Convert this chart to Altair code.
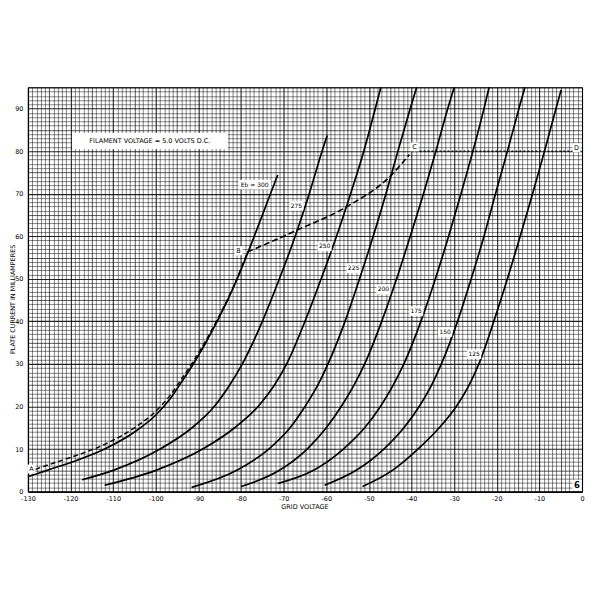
import altair as alt
import pandas as pd

# ---- characteristic curves: plate current levels (mA) and grid voltage (V) ----
ma_300 = [3.5, 5, 7, 10, 14, 18, 22, 26, 30, 40, 50, 60, 70, 74.4]
v_300 = [-130, -125.5, -119.5, -112, -105, -100, -96.5, -93.8, -91.2, -85.6, -80.9, -76.9, -73.1, -71.4]
ma_275 = [2.8, 5, 10, 15, 20, 25, 30, 40, 50, 60, 70, 80, 83.7]
v_275 = [-117.3, -110, -99, -91.5, -86.3, -82.7, -79.7, -75, -71, -67.3, -64, -61, -59.8]
ma_250 = [1.5, 5, 10, 15, 20, 25, 30, 40, 50, 60, 70, 80, 90, 95]
v_250 = [-112, -100, -89, -81.5, -76, -72.2, -69.3, -65, -61.2, -57.6, -54.3, -51.2, -48.5, -47.2]
ma_225 = [1.0, 5, 10, 15, 20, 25, 30, 40, 50, 60, 70, 80, 90, 95]
v_225 = [-91.6, -81, -73.5, -68.5, -65, -62, -59.6, -55.6, -52.2, -49, -46, -43.2, -40.3, -38.8]
ma_200 = [1.2, 5, 10, 15, 20, 25, 30, 40, 50, 60, 70, 80, 90, 95]
v_200 = [-80, -71, -64.5, -60, -56.5, -53.5, -51, -47, -43.5, -40.3, -37.2, -34.3, -31.5, -30]
ma_175 = [1.9, 5, 10, 15, 20, 25, 30, 40, 50, 60, 70, 80, 90, 95]
v_175 = [-71.4, -63, -56, -51, -47.3, -44.3, -41.8, -37.8, -34.4, -31.3, -28.4, -25.6, -23, -21.8]
ma_150 = [1.5, 5, 10, 15, 20, 25, 30, 40, 50, 60, 70, 80, 90, 95]
v_150 = [-60.4, -53, -46.5, -41.8, -38.2, -35.3, -33, -29.2, -26, -23, -20.3, -17.5, -14.8, -13.4]
ma_125 = [1.2, 5, 10, 15, 20, 25, 30, 40, 50, 60, 70, 80, 90, 94.4]
v_125 = [-51.5, -44.5, -38.5, -33.5, -29.5, -26.5, -24.2, -20.7, -17.5, -14.5, -11.6, -8.8, -6.1, -4.9]

# ---- operating line A-B-C-D ----
v_ab = [-130, -125.5, -119.5, -112, -105, -100, -96.5, -93.8, -91.2, -85.6, -80.9, -78.5]
ma_ab = [4.6, 6.2, 8.2, 11.1, 15.0, 18.9, 22.8, 26.7, 30.6, 40.4, 50.2, 56.3]
v_bc = [-78.5, -66.7, -55.3, -44.5, -40.5]
ma_bc = [56.3, 61.5, 66.9, 74.6, 79.2]
v_cd = [-40, 0]
ma_cd = [80, 80]

# ---- labels ----
lab_text = ["Eb = 300", "275", "250", "225", "200", "175", "150", "125"]
lab_v = [-76.8, -67, -60.4, -53.6, -46.6, -38.9, -32.1, -25.3]
lab_ma = [72.1, 67.2, 57.6, 52.5, 47.5, 42.4, 37.5, 32.3]
pt_text = ["A", "B", "C", "D"]
pt_v = [-129.2, -80.6, -39.3, -1.3]
pt_ma = [5.3, 56.6, 81.0, 80.8]
page_text = ["6"]
page_v = [-1.2]
page_ma = [1.5]
note_text = ["FILAMENT VOLTAGE = 5.0 VOLTS D.C."]
note_v = [-101.4]
note_ma = [82.4]

FONT = "DejaVu Sans"

curves = []
for name, vs, ms in [("300", v_300, ma_300), ("275", v_275, ma_275), ("250", v_250, ma_250),
                     ("225", v_225, ma_225), ("200", v_200, ma_200), ("175", v_175, ma_175),
                     ("150", v_150, ma_150), ("125", v_125, ma_125)]:
    for i, (a, b) in enumerate(zip(vs, ms)):
        curves.append({"eb": name, "v": a, "ma": b, "o": i})
curve_df = pd.DataFrame(curves)

ab_df = pd.DataFrame({"v": v_ab, "ma": ma_ab, "o": range(len(v_ab))})
bc_df = pd.DataFrame({"v": v_bc, "ma": ma_bc, "o": range(len(v_bc))})
cd_df = pd.DataFrame({"v": v_cd, "ma": ma_cd, "o": range(len(v_cd))})

PX = 555 / 130.0  # pixels per unit (same on both axes)


def boxed(texts, vs, ms, half_w_px, half_h_px):
    df = pd.DataFrame({"t": texts, "v": vs, "ma": ms})
    df["x1"] = df["v"] - half_w_px / PX
    df["x2"] = df["v"] + half_w_px / PX
    df["y1"] = df["ma"] - half_h_px / PX
    df["y2"] = df["ma"] + half_h_px / PX
    return df


lab_df = boxed(lab_text, lab_v, lab_ma, 0, 4.8)
lab_df["x1"] = lab_df["v"] - (lab_df["t"].str.len() * 3.7 + 3) / 2 / PX
lab_df["x2"] = lab_df["v"] + (lab_df["t"].str.len() * 3.7 + 3) / 2 / PX
pt_df = boxed(pt_text, pt_v, pt_ma, 4, 4.5)
page_df = boxed(page_text, page_v, page_ma, 4.5, 5.5)
note_df = boxed(note_text, note_v, note_ma, 78, 8)

xs = alt.Scale(domain=[-130, 0], nice=False, zero=False)
ys = alt.Scale(domain=[0, 95], nice=False, zero=False)

grid_w = {"condition": [{"test": "datum.value % 10 === 0", "value": 1.1},
                        {"test": "datum.value % 5 === 0", "value": 0.9}], "value": 0.8}
grid_o = {"condition": [{"test": "datum.value % 10 === 0", "value": 0.85},
                        {"test": "datum.value % 5 === 0", "value": 0.72}], "value": 0.6}

x_axis = alt.Axis(
    values=list(range(-130, 1)), tickCount=400,
    labelExpr="datum.value % 10 === 0 ? toString(datum.value) : ''",
    labelOverlap=False, labelFlush=False, labelFont=FONT, labelFontSize=6.5,
    labelColor="black", labelPadding=4, ticks=False, domain=True, domainColor="black",
    domainWidth=1.2, grid=True, gridColor="black", gridWidth=grid_w, gridOpacity=grid_o,
    title="GRID VOLTAGE", titleFont=FONT, titleFontSize=6.5, titleFontWeight="normal",
    titleColor="black", titleX=277, titleY=15, titleBaseline="middle", titleAlign="center",
)
y_axis = alt.Axis(
    values=list(range(0, 96)), tickCount=400,
    labelExpr="datum.value % 10 === 0 ? toString(datum.value) : ''",
    labelOverlap=False, labelFlush=False, labelFont=FONT, labelFontSize=6.5,
    labelColor="black", labelPadding=5, ticks=False, domain=True, domainColor="black",
    domainWidth=1.2, grid=True, gridColor="black", gridWidth=grid_w, gridOpacity=grid_o,
    title="PLATE CURRENT IN MILLIAMPERES", titleFont=FONT, titleFontSize=6.4,
    titleFontWeight="normal", titleColor="black", titleAngle=-90, titleX=-15, titleY=212,
    titleAlign="center", titleBaseline="middle",
)


def X(field):
    return alt.X(field, scale=xs, axis=x_axis)


def Y(field):
    return alt.Y(field, scale=ys, axis=y_axis)


lines = alt.Chart(curve_df).mark_line(interpolate="monotone", color="black", strokeWidth=1.7).encode(
    x=X("v:Q"), y=Y("ma:Q"), detail="eb:N", order="o:Q")
ab = alt.Chart(ab_df).mark_line(interpolate="monotone", color="black", strokeWidth=1.4,
                                strokeDash=[5, 3]).encode(x=X("v:Q"), y=Y("ma:Q"), order="o:Q")
bc = alt.Chart(bc_df).mark_line(interpolate="monotone", color="black", strokeWidth=1.6,
                                strokeDash=[6, 3]).encode(x=X("v:Q"), y=Y("ma:Q"), order="o:Q")
cd = alt.Chart(cd_df).mark_line(color="black", strokeWidth=1.1,
                                strokeDash=[2, 2]).encode(x=X("v:Q"), y=Y("ma:Q"), order="o:Q")


def box_layer(df):
    return alt.Chart(df).mark_rect(color="white").encode(
        x=X("x1:Q"), x2="x2:Q", y=Y("y1:Q"), y2="y2:Q")


def text_layer(df, size, weight="normal"):
    return alt.Chart(df).mark_text(font=FONT, fontSize=size, fontWeight=weight, color="black").encode(
        x=X("v:Q"), y=Y("ma:Q"), text="t:N")


chart = alt.layer(
    lines, ab, bc, cd,
    box_layer(lab_df), text_layer(lab_df, 6),
    box_layer(pt_df), text_layer(pt_df, 6.5),
    box_layer(page_df), text_layer(page_df, 8.5, "bold"),
    box_layer(note_df), text_layer(note_df, 6.5),
).properties(
    width=555, height=405,
    autosize=alt.AutoSizeParams(type="none"),
    padding={"left": 20, "top": 79, "right": 10, "bottom": 30},
    background="white",
).configure_view(stroke="black", strokeWidth=1)

chart.save("out.html", embed_options={"renderer": "svg", "actions": False})
